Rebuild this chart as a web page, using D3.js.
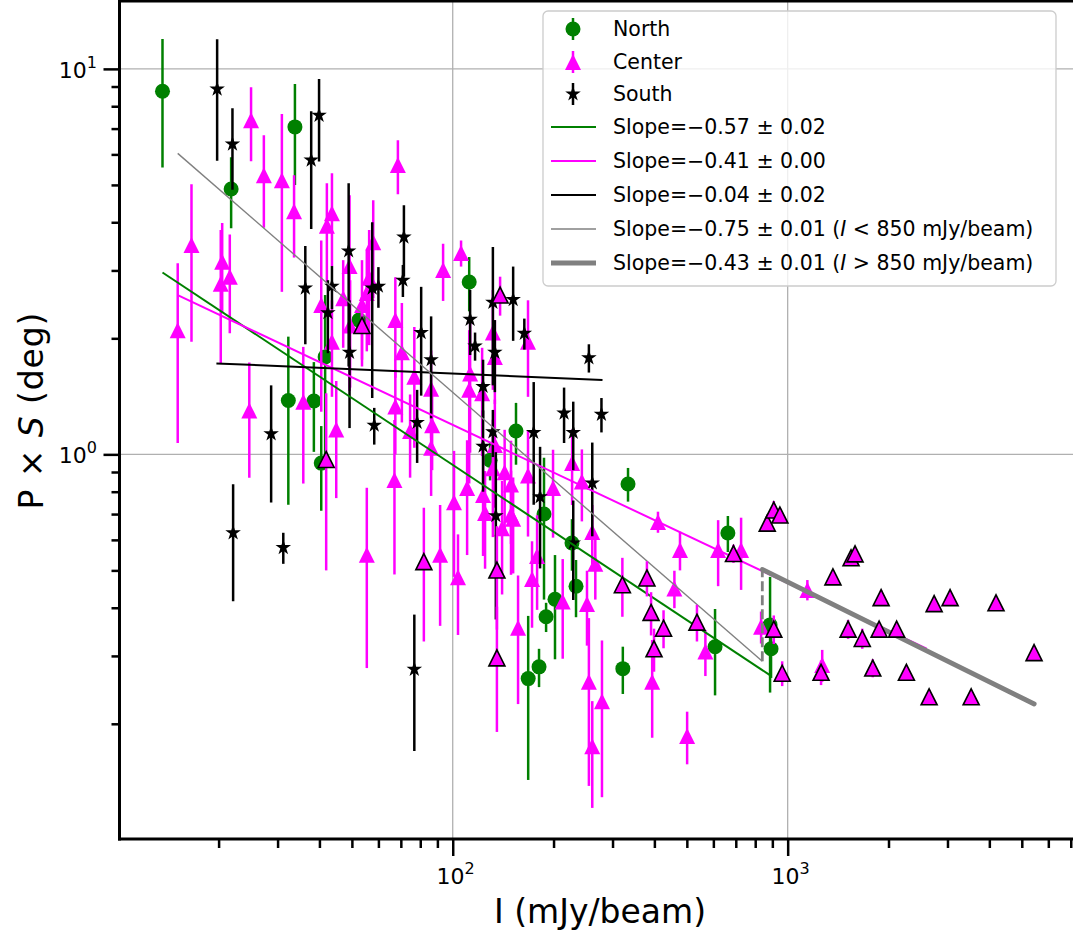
<!DOCTYPE html>
<html>
<head>
<meta charset="utf-8">
<script src="https://cdn.jsdelivr.net/npm/d3@7"></script>
<style>
body { margin: 0; background: #fff; }
svg { font-family: "DejaVu Sans", sans-serif; }
</style>
</head>
<body>
<svg id="chart" width="1073" height="934"></svg>
<script>
// each point: [I (mJy/beam), P x S (deg), error]
var north = [
  [13.6, 8.75, 3.2], [21.8, 4.88, 1.02], [33.8, 7.07, 2.07], [32.3, 1.38, 0.64],
  [38.5, 1.375, 0.36], [41.6, 1.79, 0.80], [40.5, 0.949, 0.235], [52.5, 2.23, 0.14],
  [112, 2.80, 0.45], [154.5, 1.15, 0.21], [129.3, 0.966, 0.11], [187.3, 0.70, 0.28],
  [333.7, 0.838, 0.084], [227, 0.589, 0.09], [233.4, 0.455, 0.077], [202, 0.421, 0.127],
  [190, 0.379, 0.033], [168, 0.262, 0.119], [181, 0.281, 0.032], [322, 0.278, 0.039],
  [607, 0.317, 0.08], [663, 0.625, 0.067], [886, 0.361, 0.12], [892, 0.313, 0.05]
];

var center = [
  [15.1, 2.10, 1.03], [16.6, 3.49, 1.53], [20.5, 3.16, 0.82], [20.3, 2.77, 1.05],
  [21.6, 2.89, 0.83], [25.0, 7.36, 1.6], [24.7, 1.30, 0.43], [27.3, 5.30, 1.43],
  [30.9, 5.14, 2.5], [33.6, 4.27, 1.03], [35.8, 1.37, 0.53], [42.1, 3.92, 1.13],
  [43.6, 4.22, 1.14], [40.5, 2.44, 1.15], [43.6, 1.96, 0.55], [44.9, 1.16, 0.39],
  [49.2, 3.08, 1.62], [47.1, 2.54, 0.65], [49.4, 2.16, 0.67], [55.4, 2.62, 0.77],
  [56.3, 2.87, 0.95], [57.9, 3.55, 1.01], [55.4, 0.549, 0.27], [53.6, 2.44, 0.75],
  [68.6, 5.63, 0.9], [67.4, 2.23, 0.65], [70.5, 1.84, 0.63], [76.8, 1.59, 0.55],
  [86.2, 1.48, 0.38], [67.4, 1.33, 0.33], [74.6, 1.15, 0.28], [86.8, 1.19, 0.28],
  [86.2, 1.04, 0.26], [67.0, 0.858, 0.37], [100.9, 0.751, 0.27], [93.6, 3.01, 0.51],
  [105.9, 3.33, 0.26], [112.7, 1.62, 0.61], [112, 1.47, 0.63], [122.4, 1.44, 0.45],
  [131.8, 2.07, 0.6], [133.6, 1.79, 0.44], [167.8, 1.96, 0.55], [110.4, 0.818, 0.27],
  [123.2, 0.785, 0.24], [131.8, 0.92, 0.31], [142.9, 0.898, 0.26], [149.3, 0.835, 0.25],
  [133.6, 1.057, 0.33], [167.8, 0.882, 0.27], [199.3, 0.818, 0.21], [124.9, 0.705, 0.2],
  [149.3, 0.697, 0.21], [91.7, 0.549, 0.19], [103.7, 0.48, 0.14], [156.7, 0.355, 0.13],
  [178.6, 0.545, 0.15], [172.5, 0.475, 0.12], [213, 0.415, 0.12], [140.4, 0.643, 0.21],
  [151.5, 0.681, 0.19], [251.7, 0.409, 0.09], [255, 0.257, 0.119], [261, 0.175, 0.054],
  [279, 0.229, 0.1], [394, 0.257, 0.073], [501, 0.186, 0.029], [568, 0.308, 0.042],
  [227.2, 0.949, 0.21], [243, 0.85, 0.18], [261, 0.629, 0.11], [266.5, 0.52, 0.10],
  [410, 0.668, 0.042], [477, 0.565, 0.065], [620, 0.565, 0.11], [726, 0.565, 0.12],
  [833, 0.357, 0.034], [1145, 0.445, 0.027], [1268, 0.284, 0.027], [459, 0.449, 0.05]
];

// Center points drawn with a black outline
var centerEdged = [
  [41.9, 0.97, 0.47], [53.6, 2.16, 0.4], [82.0, 0.527, 0.2], [135.5, 0.501, 0.15],
  [135.5, 0.2965, 0.106], [138.5, 2.59, 0.3], [321, 0.459, 0.08], [380, 0.478, 0.05],
  [391, 0.389, 0.05], [399, 0.313, 0.04], [426, 0.354, 0.04], [536, 0.367, 0.04],
  [689, 0.553, 0.03], [869, 0.663, 0.03], [909, 0.717, 0.04], [948, 0.696, 0.03],
  [909, 0.352, 0.03], [963, 0.2705, 0.02], [1258, 0.272, 0.02], [1365, 0.481, 0.02],
  [1515, 0.352, 0.02], [1546, 0.539, 0.02], [1589, 0.552, 0.01], [1670, 0.333, 0.02],
  [1795, 0.279, 0.015], [1875, 0.352, 0.01], [1901, 0.425, 0.02], [2115, 0.352, 0.015],
  [2262, 0.272, 0.01], [2644, 0.235, 0.01], [2737, 0.41, 0.01], [3054, 0.425, 0.01],
  [3530, 0.235, 0.01], [4188, 0.412, 0.01], [5440, 0.306, 0.01]
];

var south = [
  [19.8, 8.86, 3.08], [22.0, 6.38, 1.52], [39.9, 7.58, 1.83], [37.8, 5.80, 1.96],
  [36.3, 2.70, 0.77], [43.6, 2.73, 0.35], [42.4, 2.33, 0.5], [48.9, 3.37, 1.68],
  [49.2, 1.84, 0.67], [57.5, 2.70, 1.3], [60.0, 2.73, 0.33], [58.3, 1.19, 0.13],
  [28.7, 1.13, 0.38], [22.1, 0.626, 0.21], [31.2, 0.573, 0.053], [71.5, 3.66, 0.77],
  [71.0, 2.83, 0.27], [80.5, 2.07, 0.65], [86.2, 1.76, 0.52], [78.3, 1.21, 0.26],
  [112.7, 2.24, 0.43], [116.6, 1.91, 0.16], [131.8, 2.48, 0.97], [151.5, 2.52, 0.55],
  [163.6, 2.06, 0.19], [133.6, 1.84, 0.39], [123.2, 1.50, 0.26], [131.8, 1.144, 0.16],
  [123.2, 1.05, 0.25], [174.5, 1.14, 0.40], [182.3, 0.776, 0.27], [134.5, 0.693, 0.32],
  [215, 1.28, 0.21], [229, 1.14, 0.23], [255, 1.78, 0.15], [278, 1.27, 0.13],
  [261, 0.843, 0.23], [229, 0.589, 0.17], [76.8, 0.277, 0.107]
];

// power-law fits: log10(PxS) = intercept + slope * log10(I)
var fitLabels = ["Slope=\u22120.57 \u00b1 0.02", "Slope=\u22120.41 \u00b1 0.00", "Slope=\u22120.04 \u00b1 0.02",
                 "Slope=\u22120.75 \u00b1 0.01 (", "Slope=\u22120.43 \u00b1 0.01 ("];
var fitSlopes = [-0.576, -0.41, -0.0375, -0.755, -0.43];
var fitIntercepts = [1.1247, 0.8964, 0.2845, 1.671, 0.9588];
var fitRanges = [[13.6, 885], [15.1, 2600], [19.7, 280], [15.1, 840], [840, 5445]];
var breakI = 840;

var xMajor = [100, 1000];
var yMajor = [1, 10];

var svg = d3.select("#chart");
var pL = 119.5, pR = 1080, pT = 1, pB = 839;

var x = d3.scaleLog().domain([10.12, 7460]).range([pL, pR]);
var y = d3.scaleLog().domain([0.1005, 15]).range([pB, pT]);

var xMinor = [], yMinor = [];
[10, 100, 1000].forEach(function(b) {
  for (var k = 2; k <= 9; k++) if (b * k < 7460) xMinor.push(b * k);
});
[0.1, 1].forEach(function(b) {
  for (var k = 2; k <= 9; k++) yMinor.push(b * k);
});

svg.append("clipPath").attr("id", "clip")
  .append("rect").attr("x", pL).attr("y", pT).attr("width", pR - pL).attr("height", pB - pT);

// grid
var grid = svg.append("g").attr("stroke", "#b0b0b0").attr("stroke-width", 1.3);
xMajor.forEach(function(v) {
  grid.append("line").attr("x1", x(v)).attr("x2", x(v)).attr("y1", pT).attr("y2", pB);
});
yMajor.forEach(function(v) {
  grid.append("line").attr("x1", pL).attr("x2", pR).attr("y1", y(v)).attr("y2", y(v));
});

var plot = svg.append("g").attr("clip-path", "url(#clip)");

function drawBars(data, color) {
  plot.append("g").selectAll("line").data(data).join("line")
    .attr("x1", function(d) { return x(d[0]); })
    .attr("x2", function(d) { return x(d[0]); })
    .attr("y1", function(d) { return y(Math.max(d[1] - d[2], 0.01)); })
    .attr("y2", function(d) { return y(d[1] + d[2]); })
    .attr("stroke", color).attr("stroke-width", 2.5);
}

var triPath = "M0,-8L8,8L-8,8Z";
var starSym = d3.symbol().type(d3.symbolStar).size(75)();

function drawNorth() {
  drawBars(north, "green");
  plot.append("g").selectAll("circle").data(north).join("circle")
    .attr("cx", function(d) { return x(d[0]); })
    .attr("cy", function(d) { return y(d[1]); })
    .attr("r", 7.5).attr("fill", "green");
}
function drawCenter(data, edged) {
  drawBars(data, "magenta");
  plot.append("g").selectAll("path").data(data).join("path")
    .attr("d", triPath)
    .attr("transform", function(d) { return "translate(" + x(d[0]) + "," + y(d[1]) + ")"; })
    .attr("fill", "magenta")
    .attr("stroke", edged ? "black" : "none")
    .attr("stroke-width", 1.6);
}
function drawSouth() {
  drawBars(south, "black");
  plot.append("g").selectAll("path").data(south).join("path")
    .attr("d", starSym)
    .attr("transform", function(d) { return "translate(" + x(d[0]) + "," + y(d[1]) + ")"; })
    .attr("fill", "black");
}

drawNorth();
drawCenter(center, false);
drawSouth();

// fit lines
var fitColors = ["green", "magenta", "black", "gray", "gray"];
var fitWidths = [2, 2, 2, 1.4, 4.8];
function fitValue(i, v) { return Math.pow(10, fitIntercepts[i] + fitSlopes[i] * Math.log10(v)); }
var line = d3.line().x(function(d) { return x(d[0]); }).y(function(d) { return y(d[1]); });
fitSlopes.forEach(function(s, i) {
  if (i === 4) {
    plot.append("line")
      .attr("x1", x(breakI)).attr("x2", x(breakI))
      .attr("y1", y(fitValue(3, breakI))).attr("y2", y(fitValue(4, breakI)))
      .attr("stroke", "gray").attr("stroke-width", 2.8).attr("stroke-dasharray", "10,4");
  }
  var r = fitRanges[i];
  plot.append("path")
    .attr("d", line([[r[0], fitValue(i, r[0])], [r[1], fitValue(i, r[1])]]))
    .attr("fill", "none").attr("stroke", fitColors[i]).attr("stroke-width", fitWidths[i])
    .attr("stroke-linecap", i === 4 ? "round" : "butt");
});

drawCenter(centerEdged, true);

// axes: ticks from d3, labels written as 10 + superscript
var gx = svg.append("g").attr("transform", "translate(0," + pB + ")");
gx.call(d3.axisBottom(x).tickValues(xMajor).tickSize(17).tickFormat(""));
gx.append("g").call(d3.axisBottom(x).tickValues(xMinor).tickSize(9).tickFormat(""));
gx.selectAll(".domain").remove();
gx.selectAll(".tick line").attr("stroke", "black").attr("stroke-width", 2.5);

var gy = svg.append("g").attr("transform", "translate(" + pL + ",0)");
gy.call(d3.axisLeft(y).tickValues(yMajor).tickSize(16).tickFormat(""));
gy.append("g").call(d3.axisLeft(y).tickValues(yMinor).tickSize(8).tickFormat(""));
gy.selectAll(".domain").remove();
gy.selectAll(".tick line").attr("stroke", "black").attr("stroke-width", 2.5);

function powLabel(sel, v) {
  sel.append("tspan").text("10");
  sel.append("tspan").attr("dy", -10).style("font-size", "16px").text(Math.round(Math.log10(v)));
}
var tickLabels = svg.append("g").style("font-size", "22px").attr("fill", "black");
xMajor.forEach(function(v) {
  powLabel(tickLabels.append("text").attr("x", x(v) + 3).attr("y", 884).attr("text-anchor", "middle"), v);
});
yMajor.forEach(function(v) {
  powLabel(tickLabels.append("text").attr("x", 97).attr("y", y(v) + 9).attr("text-anchor", "end"), v);
});

// spines
var spines = svg.append("g").attr("stroke", "black").attr("stroke-width", 3).attr("stroke-linecap", "square");
spines.append("line").attr("x1", pL).attr("x2", pL).attr("y1", pT).attr("y2", pB);
spines.append("line").attr("x1", pL).attr("x2", pR).attr("y1", pB).attr("y2", pB);
spines.append("line").attr("x1", pL).attr("x2", pR).attr("y1", pT).attr("y2", pT);

// axis labels
svg.append("text").attr("x", 600).attr("y", 923).attr("text-anchor", "middle")
  .style("font-size", "33px").text("I (mJy/beam)");
var yl = svg.append("text").attr("transform", "translate(43,411) rotate(-90)")
  .attr("text-anchor", "middle").style("font-size", "33px")
  .attr("textLength", 197).attr("lengthAdjust", "spacing");
yl.append("tspan").text("P \u00d7 ");
yl.append("tspan").attr("font-style", "italic").text("S");
yl.append("tspan").text(" (deg)");

// legend
var lg = svg.append("g").attr("transform", "translate(543,11)");
lg.append("rect").attr("width", 513).attr("height", 275).attr("rx", 5)
  .attr("fill", "white").attr("fill-opacity", 0.8).attr("stroke", "#cccccc").attr("stroke-width", 1.3);
var rowY = [18, 51, 83, 116, 150, 184, 218, 252];
var hx = 30;
var seriesNames = ["North", "Center", "South"];
seriesNames.forEach(function(name, i) {
  var cy = rowY[i];
  var col = ["green", "magenta", "black"][i];
  lg.append("line").attr("x1", hx).attr("x2", hx).attr("y1", cy - 11).attr("y2", cy + 11)
    .attr("stroke", col).attr("stroke-width", 2.5);
  if (i === 0) lg.append("circle").attr("cx", hx).attr("cy", cy).attr("r", 7.5).attr("fill", col);
  if (i === 1) lg.append("path").attr("d", triPath).attr("transform", "translate(" + hx + "," + cy + ")").attr("fill", col);
  if (i === 2) lg.append("path").attr("d", starSym).attr("transform", "translate(" + hx + "," + cy + ")").attr("fill", col);
  lg.append("text").attr("x", 70).attr("y", cy).attr("dy", "0.36em").style("font-size", "20.5px").text(name);
});
fitLabels.forEach(function(lab, i) {
  var cy = rowY[i + 3];
  lg.append("line").attr("x1", 8).attr("x2", 53).attr("y1", cy).attr("y2", cy)
    .attr("stroke", fitColors[i]).attr("stroke-width", fitWidths[i]);
  var t = lg.append("text").attr("x", 70).attr("y", cy).attr("dy", "0.36em").style("font-size", "20.5px");
  t.append("tspan").text(lab);
  if (i >= 3) {
    t.append("tspan").attr("font-style", "italic").text("I");
    t.append("tspan").text((i === 3 ? " < " : " > ") + "850 mJy/beam)");
  }
});
</script>
</body>
</html>
